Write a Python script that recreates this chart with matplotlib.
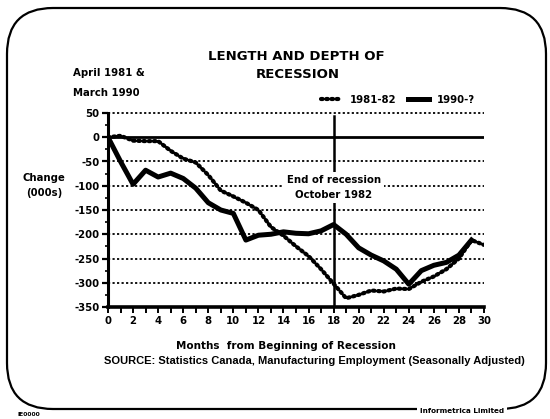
import matplotlib
matplotlib.use("Agg")
import matplotlib.pyplot as plt
import matplotlib.ticker as mticker
from matplotlib.patches import FancyBboxPatch
from matplotlib.transforms import IdentityTransform

# Data: change in manufacturing employment (000s), months from start of recession
months_8182 = list(range(0, 31))
change_8182 = [0, 3, -7, -8, -8, -28, -44, -52, -78, -110, -122, -135, -150, -185, -203,
               -225, -245, -272, -302, -332, -325, -316, -318, -312, -313, -298, -287,
               -272, -250, -212, -222]
months_90 = list(range(0, 30))
change_90 = [0, -50, -97, -68, -82, -74, -85, -105, -135, -150, -157, -212, -202, -200,
             -195, -198, -199, -193, -180, -200, -228, -243, -255, -272, -303, -275,
             -264, -258, -243, -212]
series_labels = ["1981-82", "1990-?"]
grid_levels = [50, -50, -100, -150, -200, -250, -300]
end_month = 18

plt.rcParams.update({
    "font.family": "DejaVu Sans",
    "font.weight": "bold",
    "font.size": 7.5,
    "axes.unicode_minus": False,
})

W, H = 550, 419
fig = plt.figure(figsize=(W / 100, H / 100), dpi=100)
ax = fig.add_axes([108 / W, 1 - 307 / H, (484 - 108) / W, (307 - 113) / H])


def px(x, y):
    return x / W, 1 - y / H


# rounded frame
frame = FancyBboxPatch((7, 10), 539, 401, boxstyle="round,pad=0,rounding_size=46",
                       transform=IdentityTransform(), fill=False, lw=1.6, ec="black")
fig.patches.append(frame)

# grid + zero line
for lvl in grid_levels:
    ax.axhline(lvl, color="black", lw=1.3, ls=(0, (1.2, 1.3)), zorder=1, clip_on=False)
ax.axhline(0, color="black", lw=2.0, zorder=2)
ax.plot([end_month, end_month], [44, -350], color="black", lw=1.8, zorder=2)

ax.plot(months_8182, change_8182, color="black", lw=3.0, ls=(0, (0.4, 0.85)),
        dash_capstyle="round", zorder=4, label=series_labels[0])
ax.plot(months_90, change_90, color="black", lw=3.6, solid_joinstyle="round",
        zorder=3, label=series_labels[1])

ax.text(end_month, -103, "End of recession\nOctober 1982", ha="center", va="center",
        fontsize=7.3, linespacing=1.6, zorder=5,
        bbox=dict(boxstyle="square,pad=0.3", fc="white", ec="none"))

ax.set_xlim(0, 30)
ax.set_ylim(-350, 50)
for s in ["top", "right"]:
    ax.spines[s].set_visible(False)
ax.spines["left"].set_linewidth(2.2)
ax.spines["bottom"].set_linewidth(2.6)
ax.xaxis.set_major_locator(mticker.MultipleLocator(2))
ax.xaxis.set_minor_locator(mticker.MultipleLocator(1))
ax.yaxis.set_major_locator(mticker.MultipleLocator(50))
ax.yaxis.set_minor_locator(mticker.MultipleLocator(25))
ax.tick_params(axis="x", which="both", length=4.5, width=1.4, direction="out", pad=2)
ax.tick_params(axis="y", which="major", length=4, width=1.6, pad=2)
ax.tick_params(axis="y", which="minor", length=2.5, width=1.2)
ax.tick_params(labelsize=7.3)

# legend
fig.legend(loc="center", bbox_to_anchor=px(398, 100), ncol=2, frameon=False,
           fontsize=7.3, handlelength=2.0, handletextpad=0.8, columnspacing=1.2)

# texts
fig.text(*px(296, 57), "LENGTH AND DEPTH OF", ha="center", va="center", fontsize=9.5)
fig.text(*px(298, 74), "RECESSION", ha="center", va="center", fontsize=9.5)
fig.text(*px(73, 73), "April 1981 &", ha="left", va="center", fontsize=7.3)
fig.text(*px(73, 93), "March 1990", ha="left", va="center", fontsize=7.3)
fig.text(*px(44, 178), "Change", ha="center", va="center", fontsize=7.3)
fig.text(*px(44, 193), "(000s)", ha="center", va="center", fontsize=7.3)
fig.text(*px(286, 346), "Months  from Beginning of Recession", ha="center",
         va="center", fontsize=7.5)
fig.text(*px(314, 361), "SOURCE: Statistics Canada, Manufacturing Employment "
         "(Seasonally Adjusted)", ha="center", va="center", fontsize=8.0,
         family="Liberation Sans")
fig.text(*px(462, 411), "Informetrica Limited", ha="center", va="center", fontsize=5.2,
         bbox=dict(boxstyle="square,pad=0.4", fc="white", ec="none"))
fig.text(*px(29, 414), "IE0000", ha="center", va="center", fontsize=4.3)

fig.savefig("out.png", dpi=100, facecolor="white")
